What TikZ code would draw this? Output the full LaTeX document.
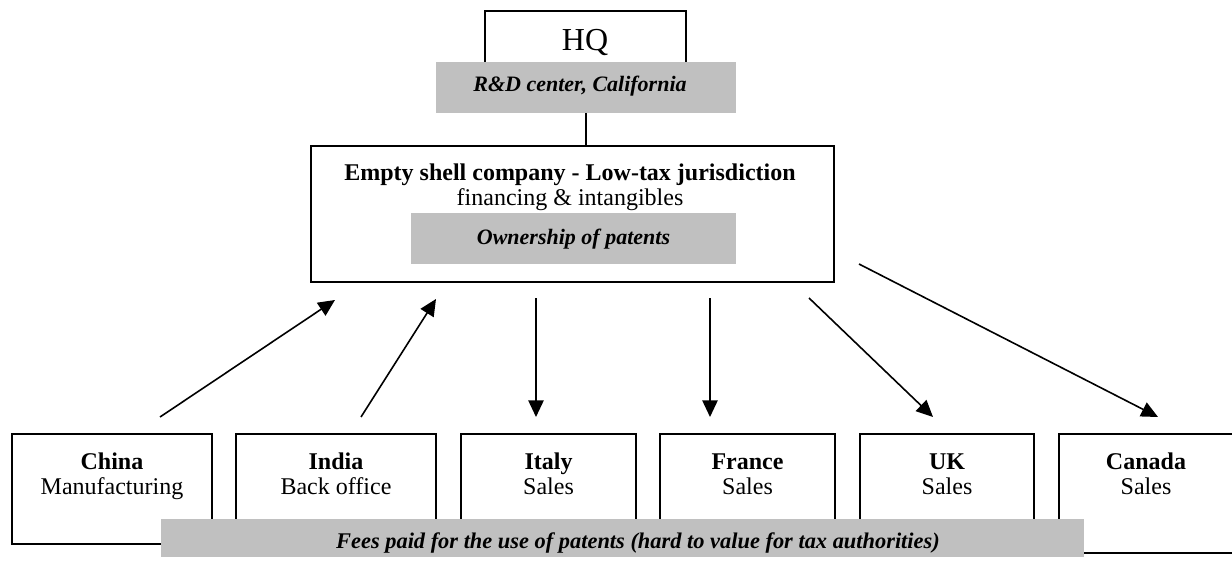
\documentclass[tikz,border=0pt]{standalone}
\usepackage{fontspec}
\setmainfont{Liberation Serif}
\usetikzlibrary{arrows.meta,fit}
\definecolor{bandgray}{RGB}{192,192,192}
% bold first line with a fixed height, so all rows line up
\newcommand\toprow[1]{\textbf{\vphantom{Chy}#1}}
\begin{document}
\begin{tikzpicture}[x=0.75pt,y=-0.75pt,
  box/.style={draw,line width=1.4pt,inner sep=0pt},
  txt/.style={font=\fontsize{18}{18.75}\selectfont,align=center,inner sep=0pt,anchor=north},
  band/.style={fill=bandgray,inner sep=0pt},
  bandtxt/.style={font=\fontsize{16.5}{18}\selectfont\bfseries\itshape,inner sep=0pt,anchor=base},
  flow/.style={line width=1.2pt,-{Triangle[length=12.5pt,width=11.5pt]}}]
\useasboundingbox (0,0) rectangle (1232,563);

% headquarters
\node[box,line width=1.2pt,fit={(485,11)(686,100)}] (hq) {};
\node[font=\fontsize{24}{24}\selectfont,inner sep=0pt,anchor=base] (hqt) at (585,51) {HQ};
\node[band,fit={(436,62)(736,113)}] (rd) {};
\node[bandtxt] (rdt) at (580,92) {R\&D center, California};

% intermediate company
\node[box,fit={(311,146)(834,282)}] (shell) {};
\node[txt] (shellt) at (570,164) {\toprow{Empty shell company - Low-tax jurisdiction}\\financing \& intangibles};
\node[band,fit={(411,213)(736,264)}] (own) {};
\node[bandtxt] (ownt) at (573.5,244) {Ownership of patents};

\draw[line width=1.2pt] (rd.south) -- (rd.south |- shell.north);

% subsidiaries
\node[box,fit={(12,434)(212,544)}] (china) {};
\node[box,fit={(236,434)(436,544)}] (india) {};
\node[box,fit={(461,434)(636,544)}] (italy) {};
\node[box,fit={(660,434)(835,544)}] (france) {};
\node[box,fit={(860,434)(1034,544)}] (uk) {};
\node[box,fit={(1059,434)(1240,553)}] (canada) {};

\coordinate (row) at (0,453);
\node[txt] (chinat) at (china.north |- row) {\toprow{China}\\Manufacturing};
\node[txt] (indiat) at (india.north |- row) {\toprow{India}\\Back office};
\node[txt] (italyt) at (italy.north |- row) {\toprow{Italy}\\Sales};
\node[txt] (francet) at (france.north |- row) {\toprow{France}\\Sales};
\node[txt] (ukt) at (uk.north |- row) {\toprow{UK}\\Sales};
\node[txt] (canadat) at (1146,453) {\toprow{Canada}\\Sales};

\node[band,fit={(161,519)(1084,557)}] (fees) {};
\node[bandtxt,font=\fontsize{16.8}{18}\selectfont\bfseries\itshape] (feest) at (638,548) {Fees paid for the use of patents (hard to value for tax authorities)};

% flows
\coordinate (a1) at (160,417);  \coordinate (b1) at (335,300);
\coordinate (a2) at (361,417);  \coordinate (b2) at (436,299);
\coordinate (a3) at (536,298);  \coordinate (b3) at (536,417);
\coordinate (a4) at (710,298);  \coordinate (b4) at (710,417);
\coordinate (a5) at (809,298);  \coordinate (b5) at (933,417);
\coordinate (a6) at (859,264);  \coordinate (b6) at (1158,417);
\draw[flow] (a1) -- (b1);
\draw[flow] (a2) -- (b2);
\draw[flow] (a3) -- (b3);
\draw[flow] (a4) -- (b4);
\draw[flow] (a5) -- (b5);
\draw[flow] (a6) -- (b6);
\end{tikzpicture}
\end{document}
